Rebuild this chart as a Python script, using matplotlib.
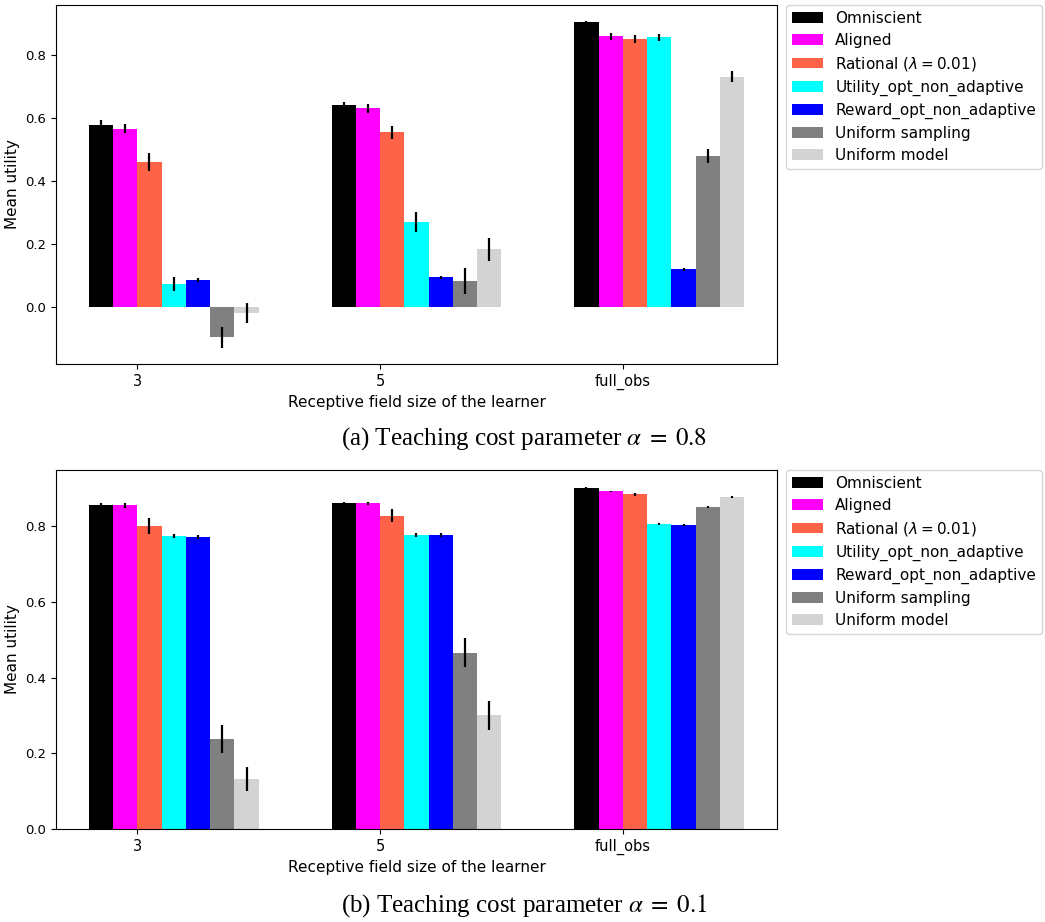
import numpy as np
import matplotlib
matplotlib.use("Agg")
import matplotlib.pyplot as plt

plt.rcParams["font.size"] = 11
plt.rcParams["ytick.labelsize"] = 9.5
plt.rcParams["xtick.labelsize"] = 10.5

# Learner receptive field sizes (x categories)
field_sizes = ["3", "5", "full_obs"]

# Teacher models (one bar per model in each group)
teachers = [
    "Omniscient",
    "Aligned",
    r"Rational ($\lambda = 0.01$)",
    "Utility_opt_non_adaptive",
    "Reward_opt_non_adaptive",
    "Uniform sampling",
    "Uniform model",
]
colors = ["black", "magenta", "tomato", "cyan", "blue", "gray", "lightgray"]

# Mean utility per teacher, alpha = 0.8  (rows: teachers, cols: field sizes)
mean_a08 = [
    [0.578, 0.642, 0.905],
    [0.567, 0.631, 0.860],
    [0.462, 0.555, 0.851],
    [0.074, 0.270, 0.857],
    [0.087, 0.095, 0.120],
    [-0.096, 0.083, 0.480],
    [-0.019, 0.183, 0.732],
]
err_a08 = [
    [0.015, 0.010, 0.003],
    [0.014, 0.014, 0.010],
    [0.029, 0.020, 0.012],
    [0.023, 0.032, 0.010],
    [0.006, 0.005, 0.005],
    [0.033, 0.040, 0.023],
    [0.031, 0.038, 0.017],
]

# Mean utility per teacher, alpha = 0.1
mean_a01 = [
    [0.857, 0.862, 0.901],
    [0.855, 0.860, 0.892],
    [0.801, 0.827, 0.884],
    [0.774, 0.776, 0.806],
    [0.772, 0.776, 0.803],
    [0.238, 0.466, 0.850],
    [0.133, 0.300, 0.877],
]
err_a01 = [
    [0.003, 0.002, 0.002],
    [0.006, 0.004, 0.002],
    [0.021, 0.017, 0.004],
    [0.005, 0.005, 0.002],
    [0.005, 0.005, 0.002],
    [0.037, 0.039, 0.003],
    [0.032, 0.038, 0.002],
]

captions = [
    r"(a) Teaching cost parameter $\alpha\;=\;0.8$",
    r"(b) Teaching cost parameter $\alpha\;=\;0.1$",
]

W, H = 1045, 922
fig = plt.figure(figsize=(W / 100, H / 100), dpi=100)


def px_axes(left, top, right, bottom):
    return fig.add_axes([left / W, 1 - bottom / H, (right - left) / W, (bottom - top) / H])


def draw_panel(ax, means, errs):
    x = np.arange(len(field_sizes))
    width = 0.1
    for i, (name, col) in enumerate(zip(teachers, colors)):
        ax.bar(x + (i - 1.5) * width, means[i], width, yerr=errs[i],
               color=col, label=name, ecolor="black",
               error_kw=dict(elinewidth=1.6, capsize=0))
    ax.set_xticks(x)
    ax.set_xticklabels(field_sizes)
    ax.set_xlabel("Receptive field size of the learner")
    ax.set_ylabel("Mean utility")
    ax.legend(loc="upper left", bbox_to_anchor=(1.013, 1.0), borderaxespad=0.0,
              labelspacing=0.45)


ax1 = px_axes(56, 5, 777, 364)
draw_panel(ax1, mean_a08, err_a08)

ax2 = px_axes(56, 470, 777, 829)
draw_panel(ax2, mean_a01, err_a01)

for caption, ypx in zip(captions, [439, 906]):
    fig.text(524 / W, 1 - ypx / H, caption, ha="center", va="center",
             fontsize=18, family="Liberation Serif", math_fontfamily="stix")

fig.savefig("out.png", dpi=100)
